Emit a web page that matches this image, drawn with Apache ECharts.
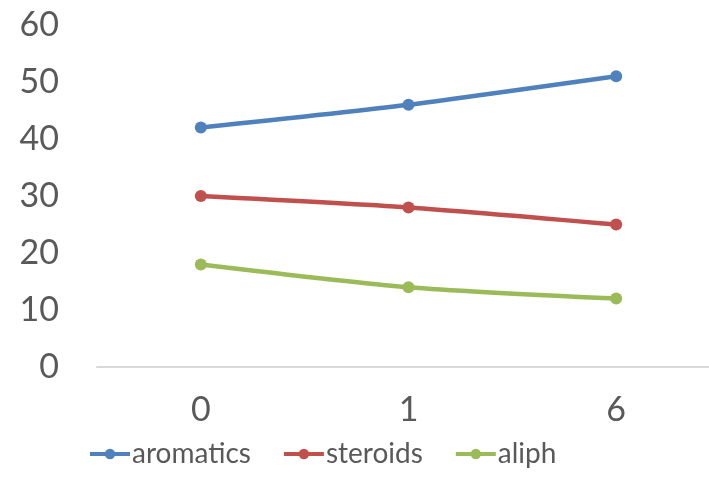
<!DOCTYPE html>
<html>
<head>
<meta charset="utf-8">
<script src="https://cdn.jsdelivr.net/npm/echarts@6/dist/echarts.min.js"></script>
<style>
  html, body { margin: 0; padding: 0; background: #fff; }
  #chart { width: 709px; height: 499px; }
</style>
</head>
<body>
<div id="chart"></div>
<script>
// Categories along the x axis
const categories = ['0', '1', '6'];
// Series values
const aromatics = [42, 46, 51];
const steroids = [30, 28, 25];
const aliph = [18, 14, 12];
// Y axis tick range
const yMin = 0;
const yMax = 60;
const yStep = 10;

const font = 'Lato, "Open Sans", sans-serif';
const textColor = '#595959';

function makeSeries(name, data, color) {
  return {
    name: name,
    type: 'line',
    data: data,
    smooth: 0.25,
    symbol: 'circle',
    symbolSize: 12,
    lineStyle: { width: 4.5, color: color },
    itemStyle: { color: color },
    emphasis: { disabled: true }
  };
}

const chart = echarts.init(document.getElementById('chart'));
chart.setOption({
  animation: false,
  backgroundColor: '#ffffff',
  // plot area runs past the right edge of the canvas
  grid: { left: 97, width: 623, top: 25, bottom: 132, containLabel: false, outerBoundsMode: 'none' },
  xAxis: {
    type: 'category',
    data: categories,
    boundaryGap: true,
    axisLine: { show: true, lineStyle: { color: '#D9D9D9', width: 2 } },
    axisTick: { show: false },
    axisLabel: { color: textColor, fontFamily: font, fontSize: 34, margin: 26 }
  },
  yAxis: {
    type: 'value',
    min: yMin,
    max: yMax,
    interval: yStep,
    axisLine: { show: false },
    axisTick: { show: false },
    splitLine: { show: false },
    axisLabel: { color: textColor, fontFamily: font, fontSize: 34, margin: 38 }
  },
  legend: {
    top: 435,
    left: 83,
    itemWidth: 40,
    itemHeight: 13,
    itemGap: 31,
    lineStyle: { width: 4 },
    textStyle: { color: textColor, fontFamily: font, fontSize: 28, padding: [0, 0, 0, -3] },
    data: ['aromatics', 'steroids', 'aliph']
  },
  series: [
    makeSeries('aromatics', aromatics, '#4F81BD'),
    makeSeries('steroids', steroids, '#C0504D'),
    makeSeries('aliph', aliph, '#9BBB59')
  ]
});
</script>
</body>
</html>
